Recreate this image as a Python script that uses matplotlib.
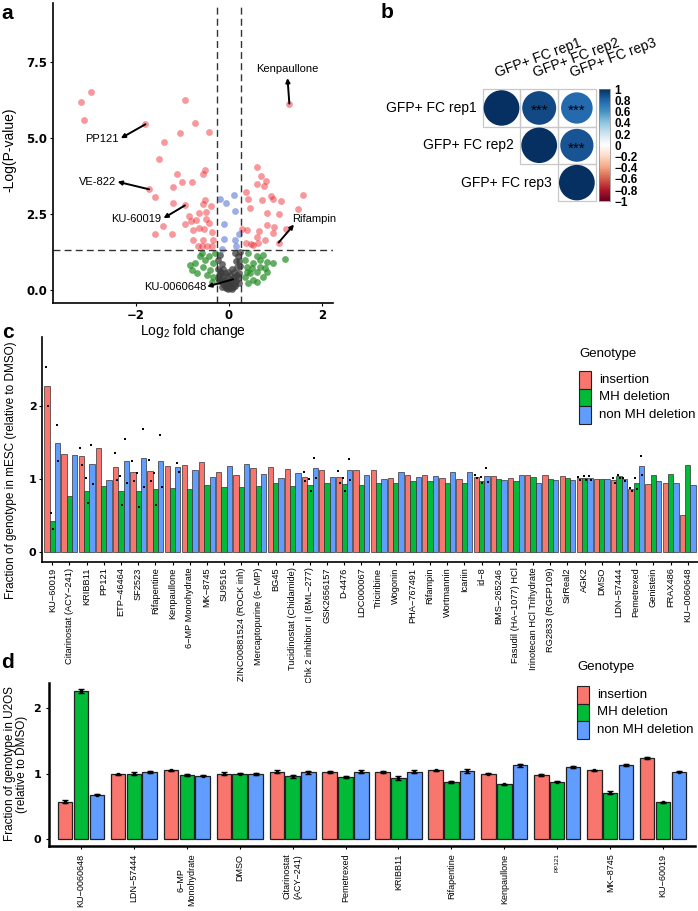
import numpy as np
import matplotlib
matplotlib.use("Agg")
from matplotlib import pyplot as plt
from matplotlib.colors import LinearSegmentedColormap, Normalize
from matplotlib.patches import Circle, Rectangle

plt.rcParams['font.family'] = ['Liberation Sans', 'DejaVu Sans']
plt.rcParams['mathtext.fontset'] = 'custom'
plt.rcParams['mathtext.rm'] = 'Liberation Sans'

W, H = 698, 911

# ---------------- panel a: volcano ----------------
red_x = [-3.18, -2.97, -3.13, -1.80, -0.95, -1.05, -0.73, -0.42, -1.41, -1.51,
         -1.11, -1.72, -1.59, -1.20, -1.01, -0.79, -0.52, -0.55, -0.95, -1.20,
         -1.43, -1.59, -1.23, -0.86, -0.82, -0.94, -0.70, -0.64, -0.54, -0.49,
         -0.50, -0.52, -0.39, -0.57, -0.65, -0.77, -0.57, -0.67, -0.48, -0.34,
         -0.37, -0.42, -0.77, -0.59, -0.36,
         1.30, 0.61, 0.70, 0.80, 0.75, 0.61, 0.37, 1.60, 0.42, 0.91,
         0.95, 1.13, 0.71, 0.45, 1.49, 1.08, 0.82, 0.27, 0.81, 0.97,
         1.23, 0.65, 0.60, 0.77, 1.07, 0.37, 0.52, 0.63, 0.95, 0.38, 0.47]
red_y = [6.19, 6.52, 5.58, 5.45, 6.24, 5.16, 5.50, 5.19, 4.88, 4.30,
         3.82, 3.31, 3.06, 3.40, 3.54, 3.54, 3.95, 3.82, 2.78, 2.85,
         2.09, 1.83, 1.84, 2.42, 2.27, 2.17, 2.31, 2.05, 2.00, 2.33,
         2.56, 2.95, 2.77, 2.83, 2.53, 1.98, 1.65, 1.43, 1.43, 1.65,
         1.92, 2.20, 1.65, 1.43, 1.43,
         6.13, 4.04, 3.76, 3.59, 3.42, 3.48, 3.22, 3.13, 2.99, 3.10,
         2.98, 2.92, 2.95, 2.70, 2.67, 2.51, 2.53, 2.02, 2.12, 2.08,
         2.00, 1.94, 1.73, 1.63, 1.56, 1.56, 1.48, 1.54, 1.87, 1.98, 1.50]
blue_x = [-0.19, -0.06, 0.10, 0.14, -0.11, 0.21, 0.14, -0.11, 0.15, -0.15]
blue_y = [2.99, 2.85, 3.12, 2.59, 2.17, 1.83, 1.63, 1.67, 1.43, 1.34]
green_x = [-0.62, -0.73, -0.44, -0.34, -0.55, -0.41, -0.68, -0.48, -0.34, -0.80,
           -0.52, -0.30, -0.59, -0.37, -0.84,
           0.42, 0.60, 0.74, 0.81, 0.52, 0.38, 0.67, 0.60, 0.77, 0.45,
           0.34, 0.52, 0.42, 0.60, 1.20, 0.95, 0.34, 0.49, 0.74, 0.38, 0.67, 0.81]
green_y = [1.10, 0.88, 1.12, 0.88, 0.77, 0.66, 0.55, 0.49, 0.44, 0.66,
           0.99, 1.21, 1.21, 0.27, 0.82,
           1.21, 1.10, 1.15, 0.93, 0.88, 0.77, 0.77, 0.60, 0.71, 0.55,
           0.44, 0.33, 0.22, 0.27, 1.01, 0.88, 0.99, 0.71, 0.44, 0.60, 0.99, 0.60]
gray_x = [-0.02, 0.03, -0.06, 0.08, -0.10, 0.12, -0.14, 0.16, -0.18, 0.19,
          -0.21, 0.22, -0.12, 0.10, -0.23, 0.23, -0.16, 0.15, -0.24, 0.20,
          -0.05, 0.05, 0.00, -0.08, 0.06, -0.20, 0.24, 0.13, -0.02, 0.09,
          -0.22, -0.19, -0.15, -0.09, -0.04, 0.01, 0.04, 0.11, 0.17, 0.21,
          -0.13, 0.18, -0.07, 0.07, -0.17, 0.14, -0.03, 0.02, 0.22, -0.24]
gray_y = [0.02, 0.05, 0.08, 0.10, 0.15, 0.18, 0.25, 0.28, 0.35, 0.40,
          0.50, 0.55, 0.45, 0.60, 0.70, 0.80, 0.85, 0.95, 1.00, 1.10,
          0.25, 0.30, 0.15, 0.55, 0.70, 1.15, 1.25, 1.20, 0.40, 0.35,
          0.30, 0.62, 0.10, 0.33, 0.12, 0.20, 0.18, 0.42, 0.50, 0.22,
          0.70, 0.75, 0.05, 0.02, 0.55, 0.12, 0.60, 0.48, 0.95, 0.40]

# label, point (tail), arrow head, text centre
hits = [
    ("Kenpaullone", (1.30, 6.13), (1.26, 6.97), (1.26, 7.27)),
    ("PP121", (-1.80, 5.45), (-2.33, 4.99), (-2.74, 4.96)),
    ("VE-822", (-1.72, 3.31), (-2.40, 3.56), (-2.83, 3.54)),
    ("KU-60019", (-0.95, 2.78), (-1.41, 2.36), (-1.99, 2.34)),
    ("Rifampin", (1.07, 1.56), (1.40, 2.15), (1.83, 2.34)),
    ("KU-0060648", (0.09, 0.35), (-0.47, 0.11), (-1.15, 0.09)),
]

# ---------------- panel b: replicate correlation ----------------
reps = ["GFP+ FC rep1", "GFP+ FC rep2", "GFP+ FC rep3"]
corr = np.array([[1.00, 0.90, 0.78],
                 [0.90, 1.00, 0.86],
                 [0.78, 0.86, 1.00]])
corr_colors = ["#67001F", "#B2182B", "#D6604D", "#F4A582", "#FDDBC7", "#FFFFFF",
               "#D1E5F0", "#92C5DE", "#4393C3", "#2166AC", "#053061"]
cb_ticks = [-1, -0.8, -0.6, -0.4, -0.2, 0, 0.2, 0.4, 0.6, 0.8, 1]
cb_labels = ['−1', '−0.8', '−0.6', '−0.4', '−0.2', '0', '0.2', '0.4', '0.6', '0.8', '1']

# ---------------- panel c: mESC ----------------
groups_c = ['KU−60019', 'Citarinostat (ACY−241)', 'KRIBB11', 'PP121', 'ETP−46464',
            'SF2523', 'Rifapentine', 'Kenpaullone', '6−MP Monohydrate', 'MK−8745',
            'SU9516', 'ZINC00881524 (ROCK inh)', 'Mercaptopurine (6−MP)', 'BG45',
            'Tucidinostat (Chidamide)', 'Chk 2 inhibitor II (BML−277)', 'GSK2656157',
            'D-4476', 'LDC000067', 'Triciribine', 'Wogonin', 'PHA−767491', 'Rifampin',
            'Wortmannin', 'Icariin', 'id−8', 'BMS−265246', 'Fasudil (HA−1077) HCl',
            'Irinotecan HCl Trihydrate', 'RG2833 (RGFP109)', 'SirReal2', 'AGK2', 'DMSO',
            'LDN−57444', 'Pemetrexed', 'Genistein', 'FRAX486', 'KU−0060648']
ins_c = [2.27, 1.34, 1.31, 1.42, 1.17, 1.10, 1.11, 1.18, 1.19, 1.23, 1.09, 1.06, 1.15,
         1.17, 1.14, 1.03, 1.13, 1.03, 1.12, 1.13, 1.02, 1.06, 1.05, 1.01, 1.00, 1.03,
         1.04, 1.01, 1.05, 1.05, 1.04, 1.02, 1.00, 0.98, 0.86, 0.93, 0.94, 0.50]
mhd_c = [0.42, 0.77, 0.84, 0.90, 0.84, 0.84, 0.86, 0.87, 0.86, 0.92, 0.89, 0.89, 0.91,
         0.95, 0.90, 0.92, 0.94, 0.93, 0.92, 0.95, 0.95, 0.97, 0.97, 0.95, 0.95, 0.97,
         1.00, 0.97, 1.03, 1.00, 1.01, 1.01, 1.00, 1.04, 0.94, 1.05, 1.07, 1.19]
nmh_c = [1.49, 1.33, 1.20, 0.99, 1.24, 1.29, 1.24, 1.16, 1.12, 1.03, 1.18, 1.20, 1.07,
         1.01, 1.08, 1.15, 1.03, 1.13, 1.05, 1.00, 1.10, 1.03, 1.04, 1.10, 1.09, 1.04,
         0.98, 1.06, 0.95, 0.98, 0.98, 1.01, 1.00, 1.00, 1.18, 0.97, 0.94, 0.92]
# replicate dots (insertion, MH deletion, non MH deletion)
reps_c = {
    'KU−60019': ([2.54, 2.00], [0.54, 0.31], [1.74, 1.24]),
    'KRIBB11': ([1.43, 1.19], [1.01, 0.67], [1.47, 0.93]),
    'ETP−46464': ([1.35, 0.99], [1.04, 0.65], [1.55, 0.95]),
    'SF2523': ([1.24, 0.97], [1.08, 0.61], [1.69, 0.89]),
    'Rifapentine': ([1.26, 0.97], [1.08, 0.65], [1.60, 0.89]),
    'Kenpaullone': ([], [], [1.22, 1.10]),
    'Chk 2 inhibitor II (BML−277)': ([1.09, 0.97], [1.00, 0.83], [1.29, 1.01]),
    'D-4476': ([1.11, 0.95], [1.02, 0.83], [1.27, 0.99]),
    'id−8': ([1.05, 1.01], [1.03, 0.94], [1.15, 0.96]),
    'AGK2': ([1.03, 0.99], [1.04, 0.99], [1.04, 0.98]),
    'LDN−57444': ([1.02, 0.95], [1.05, 1.01], [1.02, 0.97]),
    'Pemetrexed': ([0.88, 0.84], [1.02, 0.86], [1.32, 1.05]),
}

# ---------------- panel d: U2OS ----------------
groups_d = ['KU−0060648', 'LDN−57444', '6−MP\nMonohydrate', 'DMSO',
            'Citarinostat\n(ACY−241)', 'Pemetrexed', 'KRIBB11', 'Rifapentine',
            'Kenpaullone', 'PP121', 'MK−8745', 'KU−60019']
ins_d = [0.57, 0.99, 1.05, 1.00, 1.03, 1.03, 1.02, 1.05, 1.00, 0.98, 1.05, 1.24]
mhd_d = [2.26, 1.00, 0.98, 1.00, 0.96, 0.95, 0.94, 0.88, 0.84, 0.88, 0.71, 0.56]
nmh_d = [0.68, 1.03, 0.97, 1.00, 1.02, 1.03, 1.03, 1.04, 1.13, 1.11, 1.13, 1.03]
ins_err_d = [0.02, 0.01, 0.01, 0.02, 0.02, 0.015, 0.015, 0.01, 0.01, 0.01, 0.01, 0.015]
mhd_err_d = [0.03, 0.02, 0.02, 0.01, 0.02, 0.015, 0.03, 0.015, 0.01, 0.01, 0.02, 0.01]
nmh_err_d = [0.01, 0.015, 0.01, 0.015, 0.02, 0.02, 0.02, 0.025, 0.025, 0.015, 0.015, 0.01]

genotypes = ['insertion', 'MH deletion', 'non MH deletion']
geno_colors = ['#F8766D', '#00BA38', '#619CFF']


def box(l, t, r, b):
    return [l / W, 1 - b / H, (r - l) / W, (b - t) / H]


def ftext(x, y, s, **kw):
    fig.text(x / W, 1 - y / H, s, **kw)


def bold_ticks(labels, size):
    for lab in labels:
        lab.set_fontfamily('DejaVu Sans')
        lab.set_fontweight('bold')
        lab.set_fontsize(size)


def legend_at(x, y_title, y_top):
    ftext(x, y_title, 'Genotype', fontsize=9.5, va='center', ha='left')
    for i, (g, c) in enumerate(zip(genotypes, geno_colors)):
        t = y_top + i * 17.8
        fig.patches.append(Rectangle((x / W, 1 - (t + 17.8) / H), 12 / W, 17.8 / H,
                                     transform=fig.transFigure, facecolor=c,
                                     edgecolor='#222222', lw=0.8))
        ftext(x + 20, t + 8.9, g, fontsize=9.5, va='center', ha='left')


fig = plt.figure(figsize=(W / 100, H / 100), dpi=100)

# ---- a
ax = fig.add_axes(box(53, 3, 333, 303))
ax.scatter(gray_x, gray_y, s=24, color='#3c3c3c', alpha=0.75, lw=0)
ax.scatter(green_x, green_y, s=24, color='#228b22', alpha=0.7, lw=0)
ax.scatter(blue_x, blue_y, s=24, color='#3a5fcd', alpha=0.5, lw=0)
ax.scatter(red_x, red_y, s=24, color='#ee1c25', alpha=0.45, lw=0)
for v in (-0.25, 0.25):
    ax.axvline(v, color='#333333', lw=1, ls=(0, (5, 3)))
ax.axhline(1.3, color='#333333', lw=1, ls=(0, (5, 3)))
for name, tail, head, txt in hits:
    ax.annotate('', xy=head, xytext=tail,
                arrowprops=dict(arrowstyle='-|>', lw=1.4, color='black',
                                mutation_scale=6, shrinkA=0, shrinkB=0))
    ax.text(txt[0], txt[1], name, fontsize=8, ha='center', va='center')
ax.set_xlim(-3.79, 2.24)
ax.set_ylim(-0.43, 9.44)
ax.set_xticks([-2, 0, 2])
ax.set_xticklabels(['−2', '0', '2'])
ax.set_yticks([0, 2.5, 5, 7.5])
ax.set_yticklabels(['0.0', '2.5', '5.0', '7.5'])
for s in ('top', 'right'):
    ax.spines[s].set_visible(False)
for s in ('left', 'bottom'):
    ax.spines[s].set_linewidth(1.2)
ax.tick_params(length=2.5, width=0.8, pad=1.5)
bold_ticks(ax.get_yticklabels() + ax.get_xticklabels(), 8.5)
ftext(193, 331, r'Log$_\mathrm{2}$ fold change', fontsize=10, ha='center', va='center')
ftext(9, 150, '-Log(P-value)', fontsize=10, ha='center', va='center', rotation=90)

# ---- b
cmap = LinearSegmentedColormap.from_list('corrplot', corr_colors)
norm = Normalize(-1, 1)
axb = fig.add_axes(box(482.7, 89.3, 595.7, 201.3))
axb.set_xlim(0, 3)
axb.set_ylim(3, 0)
axb.axis('off')
for i in range(3):
    for j in range(i, 3):
        axb.add_patch(Rectangle((j, i), 1, 1, fill=False, ec='#c8c8c8', lw=0.9,
                                clip_on=False))
        r = corr[i, j]
        axb.add_patch(Circle((j + 0.5, i + 0.5), 0.475 * np.sqrt(abs(r)),
                             color=cmap(norm(r)), lw=0))
        if j > i:
            axb.text(j + 0.5, i + 0.58, '***', fontsize=11, ha='center', va='center')
    axb.text(i - 0.17, i + 0.5, reps[i], fontsize=10, ha='right', va='center')
    axb.text(i + 0.41, -0.25, reps[i], fontsize=10, ha='left', va='bottom',
             rotation=20, rotation_mode='anchor')
cax = fig.add_axes(box(599.3, 89.3, 610, 201.3))
cax.imshow(np.linspace(1, -1, 256)[:, None], aspect='auto', cmap=cmap,
           vmin=-1, vmax=1, extent=[0, 1, -1, 1])
cax.set_xticks([])
cax.yaxis.tick_right()
cax.set_yticks(cb_ticks)
cax.set_yticklabels(cb_labels)
cax.tick_params(length=0, pad=3)
for lab in cax.get_yticklabels():
    lab.set_fontweight('bold')
    lab.set_fontsize(8.5)
for s in cax.spines.values():
    s.set_linewidth(0.5)
    s.set_color('#888888')

# ---- c
axc = fig.add_axes(box(42, 337, 698, 562))
xc = np.arange(len(groups_c))
bw = 0.31
for k, (vals, col) in enumerate(zip([ins_c, mhd_c, nmh_c], geno_colors)):
    axc.bar(xc + (k - 1) * bw, vals, width=bw, color=col, edgecolor='#333333', lw=0.5)
for g, trio in reps_c.items():
    gi = groups_c.index(g)
    for k, pts in enumerate(trio):
        for m, p in enumerate(pts):
            axc.plot(gi + (k - 1) * bw + (m - 0.5) * 0.1, p, 's', ms=1.8,
                     color='black', mew=0)
axc.set_xlim(-0.6, len(groups_c) - 0.4)
axc.set_ylim(-0.137, 2.945)
axc.set_xticks(xc)
axc.set_xticklabels(groups_c, rotation=90, fontsize=6.7, va='top', ha='center')
axc.set_yticks([0, 1, 2])
for s in ('top', 'right'):
    axc.spines[s].set_visible(False)
for s in ('left', 'bottom'):
    axc.spines[s].set_linewidth(1.2)
axc.tick_params(length=2, width=0.8, pad=2)
bold_ticks(axc.get_yticklabels(), 8)
ftext(11, 470, 'Fraction of genotype in mESC (relative to DMSO)', fontsize=8.5,
      ha='center', va='center', rotation=90)
legend_at(579.3, 354, 370.7)

# ---- d
axd = fig.add_axes(box(49, 683, 695, 846))
xd = np.arange(len(groups_d))
for k, (vals, errs, col) in enumerate(zip([ins_d, mhd_d, nmh_d],
                                          [ins_err_d, mhd_err_d, nmh_err_d],
                                          geno_colors)):
    pos = xd + (k - 1) * 0.3
    axd.bar(pos, vals, width=0.27, color=col, edgecolor='#222222', lw=0.9)
    axd.errorbar(pos, vals, yerr=errs, fmt='s', ms=2, color='black',
                 elinewidth=1, capsize=2)
axd.set_xlim(-0.6, len(groups_d) - 0.4)
axd.set_ylim(-0.107, 2.389)
axd.set_xticks(xd)
axd.set_xticklabels(groups_d, rotation=90, fontsize=6.5, va='top', ha='center')
for lab in axd.get_xticklabels():
    if lab.get_text() == 'PP121':
        lab.set_fontsize(4.5)
axd.set_yticks([0, 1, 2])
for s in ('top', 'right'):
    axd.spines[s].set_visible(False)
for s in ('left', 'bottom'):
    axd.spines[s].set_linewidth(1.8)
axd.tick_params(length=2.5, width=0.8, pad=3)
bold_ticks(axd.get_yticklabels(), 8)
ftext(16, 764, 'Fraction of genotype in U2OS\n(relative to DMSO)', fontsize=8.5,
      ha='center', va='center', rotation=90, linespacing=1.1)
legend_at(577.3, 667.3, 685.7)

# panel letters
for letter, x, y in [('a', 7, 19), ('b', 387, 18), ('c', 7.5, 338), ('d', 7, 668)]:
    ftext(x, y, letter, fontsize=15, fontweight='bold', ha='center', va='baseline')

fig.savefig('out.png', dpi=100)
